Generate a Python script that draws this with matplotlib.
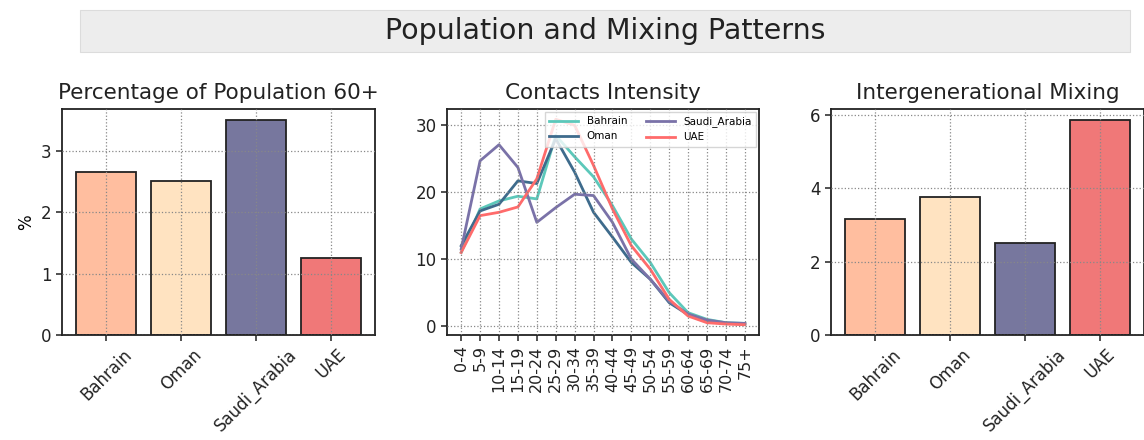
import matplotlib
matplotlib.use("Agg")
import matplotlib.pyplot as plt
from matplotlib.patches import Rectangle

countries = ["Bahrain", "Oman", "Saudi_Arabia", "UAE"]
pct_60plus = [2.65, 2.51, 3.50, 1.26]
intergen_mixing = [3.15, 3.77, 2.50, 5.86]

age_groups = ["0-4", "5-9", "10-14", "15-19", "20-24", "25-29", "30-34", "35-39",
              "40-44", "45-49", "50-54", "55-59", "60-64", "65-69", "70-74", "75+"]
contacts_bahrain = [11.0, 17.5, 18.7, 19.4, 19.0, 28.5, 25.3, 22.3, 18.0, 13.0, 9.5, 5.0, 2.0, 1.0, 0.5, 0.4]
contacts_oman = [12.0, 17.2, 18.2, 21.7, 21.3, 28.0, 23.0, 17.0, 13.3, 9.5, 7.0, 3.5, 1.7, 0.8, 0.4, 0.3]
contacts_saudi = [11.5, 24.7, 27.1, 23.7, 15.5, 17.7, 19.7, 19.5, 15.5, 10.0, 7.0, 3.7, 1.8, 0.9, 0.5, 0.4]
contacts_uae = [11.0, 16.5, 17.0, 17.8, 22.0, 30.9, 30.0, 24.0, 17.5, 12.0, 8.5, 4.0, 1.5, 0.5, 0.3, 0.2]

bar_colors = ["#FFBE9F", "#FFE3C1", "#77779E", "#F07878"]
line_colors = ["#5CC8BA", "#3E6B8C", "#7A72A8", "#FF6B6B"]

plt.rcParams['font.family'] = ['DejaVu Sans']

fig = plt.figure(figsize=(11.44, 4.4), dpi=100)
W, H = 1144, 440

def ax_rect(x0, y0, x1, y1):
    return [x0 / W, 1 - y1 / H, (x1 - x0) / W, (y1 - y0) / H]

ax1 = fig.add_axes(ax_rect(62, 109, 375, 335))
ax2 = fig.add_axes(ax_rect(447, 109, 759, 335))
ax3 = fig.add_axes(ax_rect(831, 109, 1144, 335))

# title banner
fig.patches.append(Rectangle((80 / W, 1 - 52 / H), (1130 - 80) / W, 42 / H,
                             transform=fig.transFigure, facecolor="#EDEDED",
                             edgecolor="#DCDCDC", linewidth=0.8, zorder=0))
fig.text(605 / W, 1 - 31 / H, "Population and Mixing Patterns", ha="center", va="center",
         fontsize=20.5, color="#222222")

def style(ax, labelsize=12):
    ax.grid(True, linestyle=":", color="#888888", linewidth=0.9)
    ax.set_axisbelow(False)
    for s in ax.spines.values():
        s.set_linewidth(1.3)
        s.set_color("#222222")
    ax.tick_params(labelsize=labelsize, colors="#222222", length=4, width=1.1)

# left bars
ax1.bar(countries, pct_60plus, color=bar_colors, edgecolor="#222222", linewidth=1.3, width=0.8, zorder=1)
ax1.set_title("Percentage of Population 60+", fontsize=15.5, color="#222222", pad=7)
ax1.set_ylabel("%", fontsize=12)
style(ax1)
ax1.set_yticks([0, 1, 2, 3])
plt.setp(ax1.get_xticklabels(), rotation=45)

# middle lines
for vals, lab, c in zip([contacts_bahrain, contacts_oman, contacts_saudi, contacts_uae],
                        countries, line_colors):
    ax2.plot(age_groups, vals, color=c, linewidth=2, label=lab)
ax2.set_title("Contacts Intensity", fontsize=15.5, color="#222222", pad=7)
style(ax2, labelsize=11.5)
ax2.tick_params(axis="y", labelsize=12)
ax2.set_yticks([0, 10, 20, 30])
plt.setp(ax2.get_xticklabels(), rotation=90)
ax2.legend(ncol=2, fontsize=7.5, loc="upper right", frameon=True, framealpha=0.8,
           borderaxespad=0.3, handlelength=2.8, columnspacing=1.8, fancybox=False,
           edgecolor="#CCCCCC")

# right bars
ax3.bar(countries, intergen_mixing, color=bar_colors, edgecolor="#222222", linewidth=1.3, width=0.8, zorder=1)
ax3.set_title("Intergenerational Mixing", fontsize=15.5, color="#222222", pad=7)
style(ax3)
ax3.set_yticks([0, 2, 4, 6])
plt.setp(ax3.get_xticklabels(), rotation=45)

fig.savefig("out.png", dpi=100)
